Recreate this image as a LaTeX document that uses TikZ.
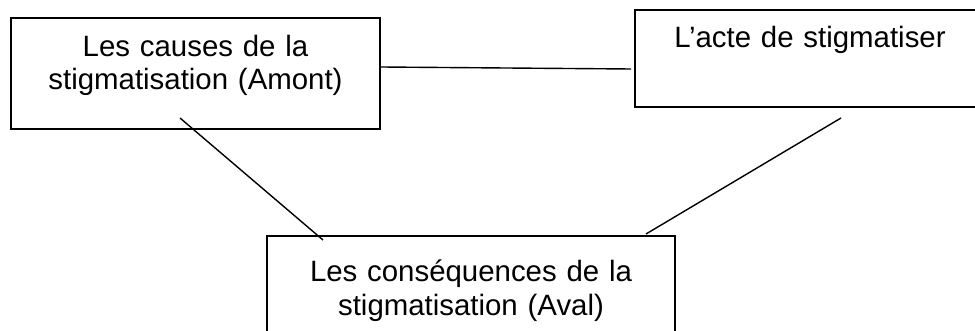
\documentclass[tikz,border=0pt]{standalone}
\usepackage{fontspec}
\setmainfont{Liberation Sans}
\begin{document}
\begin{tikzpicture}[x=1pt, y=-1pt,
  box/.style={draw=black, line width=2pt, rectangle, inner sep=0pt},
  label text/.style={font=\fontsize{29.4}{33}\selectfont, text width=400pt,
    align=center, anchor=base, inner sep=0pt},
  link/.style={draw=black, line width=1.4pt}]
  \useasboundingbox (0,0) rectangle (975,331);
  \clip (0,0) rectangle (975,331);

  % the three boxes
  \node[box, minimum width=369pt, minimum height=111pt] (cause) at (195.5,73.5) {};
  \node[box, minimum width=350pt, minimum height=97pt]  (acte)  at (810,58.5) {};
  \node[box, minimum width=408pt, minimum height=110pt] (cons)  at (471,291) {};

  % their texts
  \node[label text] (causeText) at (195.5,57) {Les causes de la\\stigmatisation (Amont)};
  \node[label text] (acteText)  at (810,48)   {L’acte de stigmatiser};
  \node[label text] (consText)  at (471,282)  {Les conséquences de la\\stigmatisation (Aval)};

  % plain connecting lines
  \draw[link] ([yshift=6.5pt]cause.east) -- ([xshift=-3pt,yshift=-10.5pt]acte.west);
  \draw[link] ([xshift=-15.5pt,yshift=12pt]cause.south) -- ([xshift=-148pt,yshift=-5pt]cons.north);
  \draw[link] ([xshift=31pt,yshift=-10pt]acte.south) -- ([xshift=175pt,yshift=1pt]cons.north);
\end{tikzpicture}
\end{document}
